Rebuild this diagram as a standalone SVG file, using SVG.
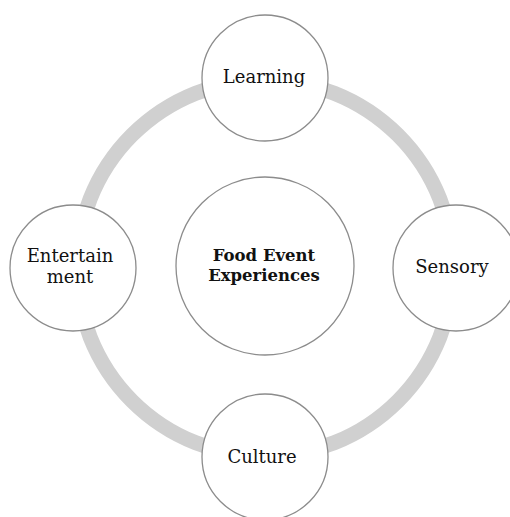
<svg xmlns="http://www.w3.org/2000/svg" width="510" height="517" viewBox="0 0 510 517">
<style>
.node{fill:#fff;stroke:#8c8c8c;stroke-width:1.3}
.lbl{font-family:"DejaVu Serif","Liberation Serif",serif;font-size:18px;fill:#111;text-anchor:middle}
.ctr{font-family:"DejaVu Serif","Liberation Serif",serif;font-size:16.5px;font-weight:bold;fill:#111;text-anchor:middle}
</style>
<rect width="510" height="517" fill="#fff"/>
<g id="connectors">
<circle cx="265" cy="268" r="188" fill="none" stroke="#d0d0d0" stroke-width="15"/>
</g>
<g id="center">
<circle class="node" cx="265" cy="266" r="89"/>
<text class="ctr" x="264" y="261">Food Event</text>
<text class="ctr" x="264" y="281">Experiences</text>
</g>
<g id="learning">
<circle class="node" cx="265" cy="78" r="63"/>
<text class="lbl" x="264" y="83">Learning</text>
</g>
<g id="sensory">
<circle class="node" cx="456" cy="268" r="63"/>
<text class="lbl" x="452" y="273">Sensory</text>
</g>
<g id="culture">
<circle class="node" cx="265" cy="457" r="63"/>
<text class="lbl" x="262" y="463">Culture</text>
</g>
<g id="entertainment">
<circle class="node" cx="73" cy="268" r="63"/>
<text class="lbl" x="70" y="262">Entertain</text>
<text class="lbl" x="70" y="283">ment</text>
</g>
</svg>
